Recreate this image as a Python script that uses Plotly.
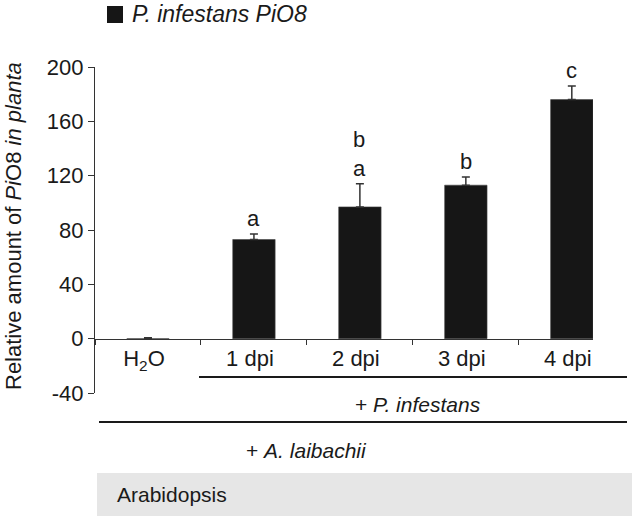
import plotly.graph_objects as go

# ---- data ----
categories = ["H<sub>2</sub>O", "1 dpi", "2 dpi", "3 dpi", "4 dpi"]
values = [0, 73, 97, 113, 176]
errors = [0.6, 4, 17, 6, 10]
letters = ["", "a", "b<br>a", "b", "c"]
y_ticks = [-40, 0, 40, 80, 120, 160, 200]
y_tick_text = ["-40", "0", "40", "80", "120", "160", "200"]
series_name = "<i>P. infestans PiO8</i>"

W, H = 635, 519
L, R, T, B = 95, 42, 67, 126
PW, PH = W - L - R, H - T - B
FONT = "Liberation Sans, Arial, sans-serif"
DARK = "#1a1a1a"

def px(x):
    return (x - L) / PW

def py(y):
    return (H - B - y) / PH

fig = go.Figure()
fig.add_trace(go.Bar(
    x=categories, y=values, width=0.4,
    marker=dict(color="#161616", line=dict(color="#444", width=0.6)),
    error_y=dict(type="data", array=errors, arrayminus=[0] * len(errors),
                 symmetric=False, color="#333", thickness=1.5, width=4),
    showlegend=False, hoverinfo="skip",
))

annotations = []
for c, v, e, t in zip(categories, values, errors, letters):
    if t:
        annotations.append(dict(x=c, y=v + e, xref="x", yref="y", text=t,
                                showarrow=False, yanchor="bottom", yshift=1,
                                font=dict(size=22, color=DARK, family=FONT)))

def label(x, y, text, size=21, xanchor="center", angle=0):
    return dict(x=px(x), y=py(y), xref="paper", yref="paper", text=text,
                xanchor=xanchor, yanchor="middle", textangle=angle,
                showarrow=False, font=dict(size=size, color=DARK, family=FONT))

annotations += [
    label(13, 226, "Relative amount of <i>Pi</i>O8 <i>in planta</i>", 22, angle=-90),
    label(130, 14, series_name, 23, xanchor="left"),
    label(418, 404, "+ <i>P. infestans</i>"),
    label(306, 450, "+ <i>A. laibachii</i>"),
    label(115, 494, "Arabidopsis", xanchor="left"),
]

shapes = [
    # legend swatch
    dict(type="rect", xref="paper", yref="paper", x0=px(107), x1=px(123),
         y0=py(23), y1=py(6), fillcolor="#161616", line=dict(width=0)),
    # group lines
    dict(type="line", xref="paper", yref="paper", x0=px(199), x1=px(627),
         y0=py(377), y1=py(377), line=dict(color=DARK, width=2)),
    dict(type="line", xref="paper", yref="paper", x0=px(99), x1=px(627),
         y0=py(422), y1=py(422), line=dict(color=DARK, width=2)),
    # grey box
    dict(type="rect", xref="paper", yref="paper", x0=px(97), x1=px(632),
         y0=py(516), y1=py(473), fillcolor="#e6e6e6", line=dict(width=0),
         layer="below"),
]

fig.update_layout(
    width=W, height=H,
    margin=dict(l=L, r=R, t=T, b=B, autoexpand=False),
    paper_bgcolor="white", plot_bgcolor="white",
    font=dict(family=FONT, size=21, color=DARK),
    annotations=annotations, shapes=shapes,
    xaxis=dict(type="category", range=[-0.5, 4.2], anchor="free",
               position=40 / 240, showline=True, linecolor="#333",
               linewidth=1.2, ticks="outside", tickson="boundaries",
               ticklen=5, tickcolor="#333", showgrid=False,
               ticklabelshift=-4,
               automargin=False, tickfont=dict(size=22, color=DARK)),
    yaxis=dict(range=[-40, 200], tickvals=y_ticks, ticktext=y_tick_text,
               showline=True, automargin=False,
               linecolor="#333", linewidth=1.2, ticks="outside", ticklen=6,
               tickcolor="#333", showgrid=False, zeroline=False,
               tickfont=dict(size=22, color=DARK)),
)

fig.write_html("out.html", config={"displayModeBar": False},
               post_script="document.body.style.margin='0';"
                           "document.body.style.overflow='hidden';")
